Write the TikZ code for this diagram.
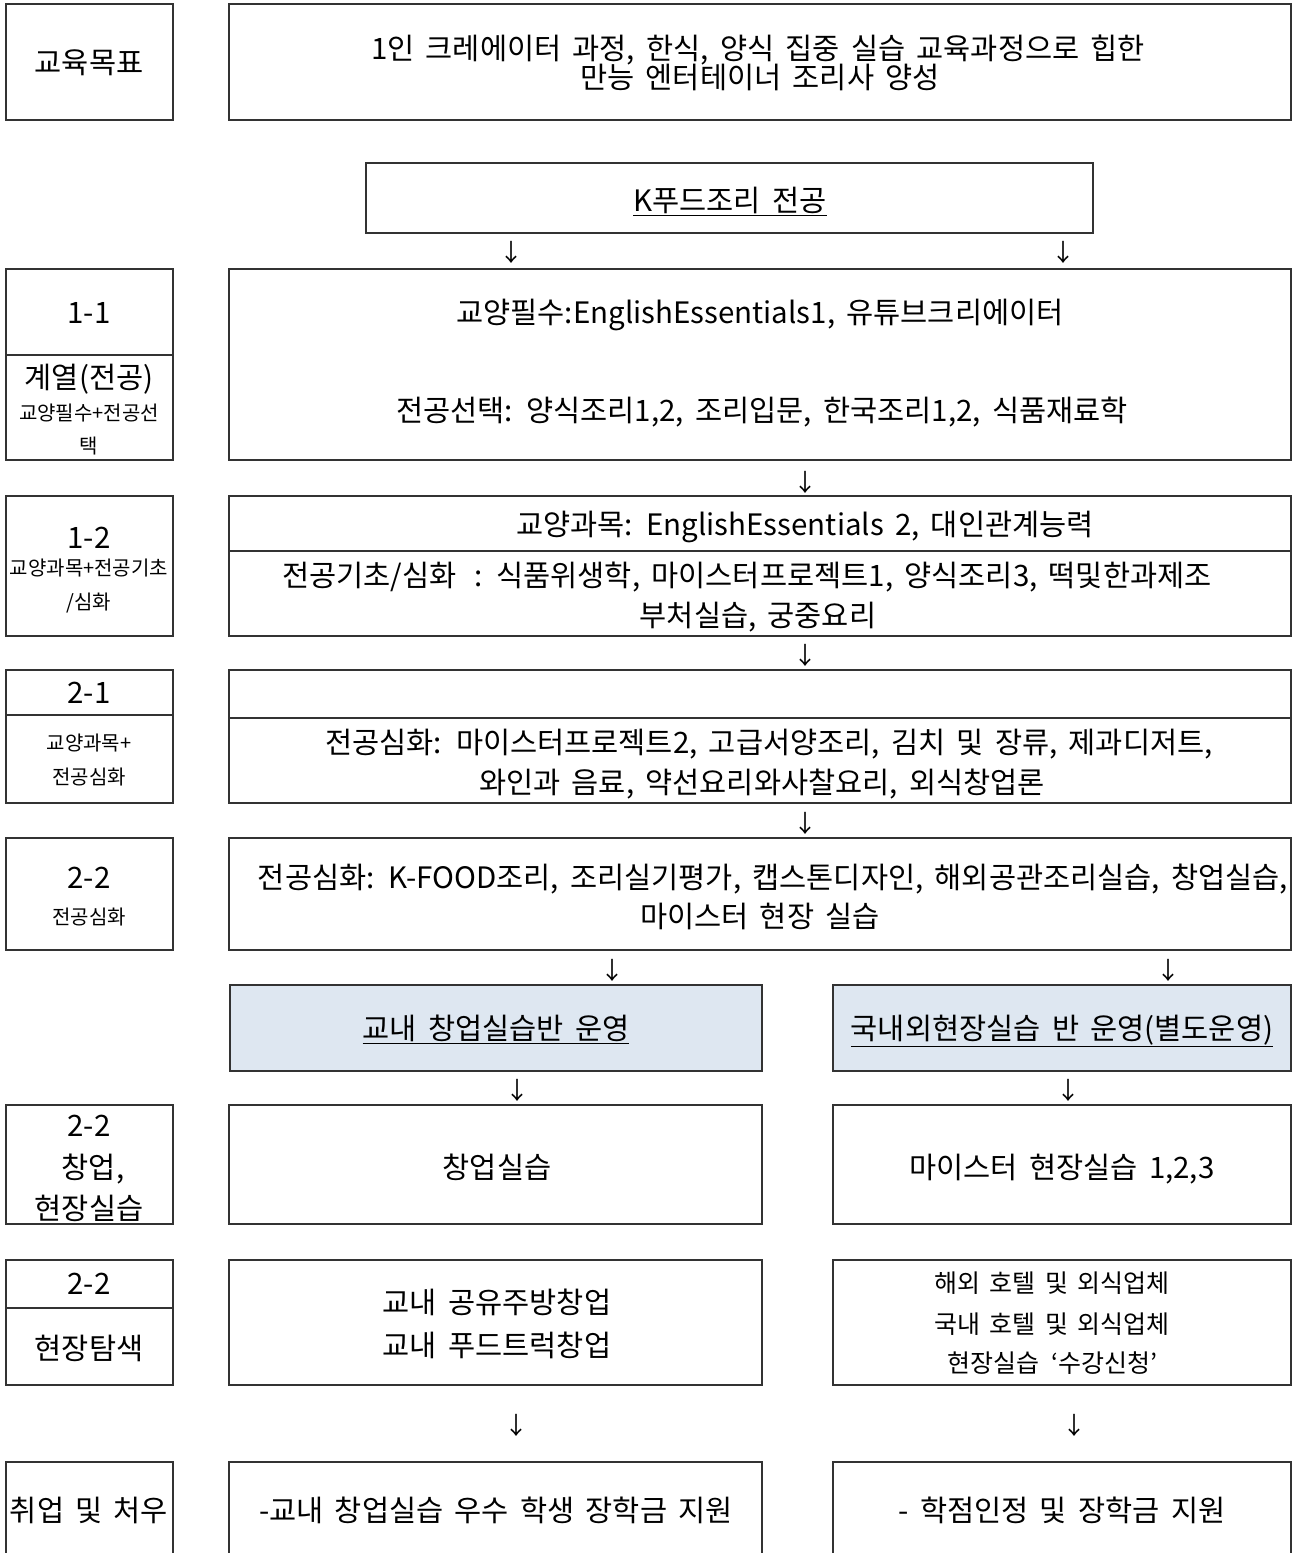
\documentclass[tikz,border=0pt]{standalone}
\usepackage{fontspec}
\setmainfont{Noto Sans CJK KR}[WordSpace=1.7]
\usetikzlibrary{fit}
\definecolor{boxblue}{HTML}{DEE7F1}
\begin{document}
\begin{tikzpicture}[x=1pt,y=-1pt,
  box/.style={draw=black!80, line width=1.3pt, inner sep=0pt},
  fillbox/.style={box, fill=boxblue},
  txt/.style={inner sep=0pt, font=\fontsize{29.5}{34}\selectfont, text height=24.5pt, text depth=2pt},
  small/.style={inner sep=0pt, font=\fontsize{20}{24}\selectfont, text height=16.6pt, text depth=1.4pt},
  mid/.style={inner sep=0pt, font=\fontsize{25}{29}\selectfont, text height=20.75pt, text depth=1.75pt},
  arr/.style={inner sep=0pt, font=\fontsize{24}{28}\selectfont},
  divider/.style={draw=black!80, line width=1.2pt}]
\useasboundingbox (0,0) rectangle (1292,1553);
\fill[white] (0,0) rectangle (1292,1553);

% row 0
\node[box, fit={(6,4) (173,120)}] (l0) {};
\node[txt] (l0t) at (89,62) {교육목표};
\node[box, fit={(229,4) (1291,120)}] (g) {};
\node[txt] (g1) at (758,48) {1인 크레에이터 과정, 한식, 양식 집중 실습 교육과정으로 힙한};
\node[txt] (g2) at (760,77) {만능 엔터테이너 조리사 양성};

% K food
\node[box, fit={(366,163) (1093,233)}] (k) {};
\node[txt] (kt) at (730,200) {\underline{K푸드조리 전공}};
\node[arr] (a1) at (511,252) {↓};
\node[arr] (a2) at (1063,252) {↓};

% 1-1
\node[box, fit={(6,269) (173,460)}] (l1) {};
\draw[divider] (l1.west |- 0,355) -- (l1.east |- 0,355);
\node[txt] (l1a) at (89,312) {1-1};
\node[txt] (l1b) at (89,377) {계열(전공)};
\node[small] (l1c) at (89,413) {교양필수+전공선};
\node[small] (l1d) at (89,446) {택};
\node[box, fit={(229,269) (1291,460)}] (r1) {};
\node[txt] (r1a) at (760,312) {교양필수:EnglishEssentials1, 유튜브크리에이터};
\node[txt] (r1b) at (762,410) {전공선택: 양식조리1,2, 조리입문, 한국조리1,2, 식품재료학};
\node[arr] (a3) at (805,482) {↓};

% 1-2
\node[box, fit={(6,496) (173,636)}] (l2) {};
\node[txt] (l2a) at (89,537) {1-2};
\node[small] (l2b) at (89,568) {교양과목+전공기초};
\node[small] (l2c) at (89,602) {/심화};
\node[box, fit={(229,496) (1291,636)}] (r2) {};
\draw[divider] (r2.west |- 0,551) -- (r2.east |- 0,551);
\node[txt] (r2a) at (805,524) {교양과목: EnglishEssentials 2, 대인관계능력};
\node[txt] (r2b) at (747,575) {전공기초/심화\hspace{18pt}: 식품위생학, 마이스터프로젝트1, 양식조리3, 떡및한과제조};
\node[txt] (r2c) at (758,615) {부처실습, 궁중요리};
\node[arr] (a4) at (805,655) {↓};

% 2-1
\node[box, fit={(6,670) (173,803)}] (l3) {};
\draw[divider] (l3.west |- 0,715) -- (l3.east |- 0,715);
\node[txt] (l3a) at (89,692) {2-1};
\node[small] (l3b) at (89,743) {교양과목+};
\node[small] (l3c) at (89,777) {전공심화};
\node[box, fit={(229,670) (1291,803)}] (r3) {};
\draw[divider] (r3.west |- 0,718) -- (r3.east |- 0,718);
\node[txt] (r3a) at (769,742) {전공심화:\hspace{14pt}마이스터프로젝트2, 고급서양조리, 김치 및 장류, 제과디저트,};
\node[txt] (r3b) at (762,782) {와인과 음료, 약선요리와사찰요리, 외식창업론};
\node[arr] (a5) at (805,823) {↓};

% 2-2
\node[box, fit={(6,838) (173,950)}] (l4) {};
\node[txt] (l4a) at (89,877) {2-2};
\node[small] (l4b) at (89,917) {전공심화};
\node[box, fit={(229,838) (1291,950)}] (r4) {};
\node[txt] (r4a) at (773,877) {전공심화: K-FOOD조리, 조리실기평가, 캡스톤디자인, 해외공관조리실습, 창업실습,};
\node[txt] (r4b) at (760,916) {마이스터 현장 실습};
\node[arr] (a6) at (612,970) {↓};
\node[arr] (a7) at (1168,970) {↓};

% blue boxes
\node[fillbox, fit={(230,985) (762,1071)}] (b1) {};
\node[txt] (b1t) at (496,1028) {\underline{교내 창업실습반 운영}};
\node[fillbox, fit={(833,985) (1291,1071)}] (b2) {};
\node[txt] (b2t) at (1062,1028) {\underline{국내외현장실습 반 운영(별도운영)}};
\node[arr] (a8) at (517,1090) {↓};
\node[arr] (a9) at (1068,1090) {↓};

% 2-2 창업
\node[box, fit={(6,1105) (173,1224)}] (l5) {};
\node[txt] (l5a) at (89,1125) {2-2};
\node[txt] (l5b) at (93,1167) {창업,};
\node[txt] (l5c) at (89,1208) {현장실습};
\node[box, fit={(229,1105) (762,1224)}] (m5) {};
\node[txt] (m5t) at (497,1167) {창업실습};
\node[box, fit={(833,1105) (1291,1224)}] (r5) {};
\node[txt] (r5t) at (1062,1167) {마이스터 현장실습 1,2,3};

% 현장탐색
\node[box, fit={(6,1260) (173,1385)}] (l6) {};
\draw[divider] (l6.west |- 0,1308) -- (l6.east |- 0,1308);
\node[txt] (l6a) at (89,1283) {2-2};
\node[txt] (l6b) at (89,1348) {현장탐색};
\node[box, fit={(229,1260) (762,1385)}] (m6) {};
\node[txt] (m6a) at (497,1302) {교내 공유주방창업};
\node[txt] (m6b) at (497,1345) {교내 푸드트럭창업};
\node[box, fit={(833,1260) (1291,1385)}] (r6) {};
\node[mid] (r6a) at (1052,1283) {해외 호텔 및 외식업체};
\node[mid] (r6b) at (1052,1324) {국내 호텔 및 외식업체};
\node[mid] (r6c) at (1052,1363) {현장실습\hspace{12pt}‘수강신청’};
\node[arr] (a10) at (516,1425) {↓};
\node[arr] (a11) at (1074,1425) {↓};

% bottom
\node[box, fit={(6,1462) (173,1600)}] (l7) {};
\node[txt] (l7t) at (89,1510) {취업 및 처우};
\node[box, fit={(229,1462) (762,1600)}] (m7) {};
\node[txt] (m7t) at (496,1510) {-교내 창업실습 우수 학생 장학금 지원};
\node[box, fit={(833,1462) (1291,1600)}] (r7) {};
\node[txt] (r7t) at (1062,1510) {- 학점인정 및 장학금 지원};
\end{tikzpicture}
\end{document}
